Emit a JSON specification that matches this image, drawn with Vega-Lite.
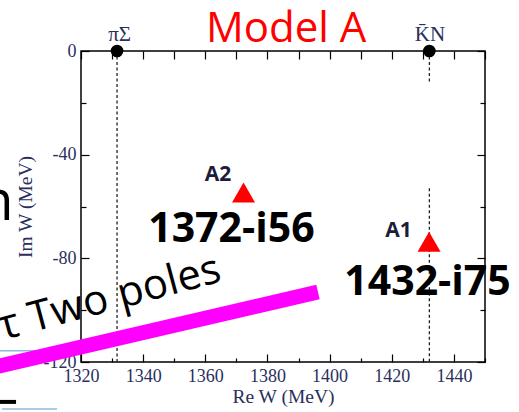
{
  "$schema": "https://vega.github.io/schema/vega-lite/v6.json",
  "width": 404,
  "height": 311,
  "autosize": {"type": "none"},
  "padding": {"left": 81, "top": 51, "right": 34, "bottom": 50},
  "background": "white",
  "config": {
    "view": {"stroke": "black", "strokeWidth": 1.5},
    "axis": {
      "domain": false,
      "grid": false,
      "labelFlush": false,
      "tickColor": "black",
      "tickWidth": 1.2,
      "labelFont": "Liberation Serif",
      "labelFontSize": 18,
      "labelColor": "#2a2f5c",
      "titleFont": "Liberation Serif",
      "titleFontSize": 19.5,
      "titleFontWeight": "normal",
      "titleColor": "#2a2f5c"
    }
  },
  "datasets": {
    "vlines": [
      {"re": 1331.6, "y": 0, "y2": -120},
      {"re": 1432.1, "y": 0, "y2": -12.3},
      {"re": 1432.1, "y": -53, "y2": -120}
    ],
    "thresholds": [
      {"label": "πΣ", "re": 1331.6, "im": 0},
      {"label": "K̄N", "re": 1432.1, "im": 0}
    ],
    "poles": [
      {"pole": "A2", "re": 1372.3, "im": -54.6},
      {"pole": "A1", "re": 1432.0, "im": -73.6}
    ],
    "annotations": [
      {"text": "A2", "re": 1364.1, "im": -50.2, "kind": "pole"},
      {"text": "A1", "re": 1422.2, "im": -71.8, "kind": "pole"},
      {"text": "1372-i56", "re": 1368.4, "im": -73.7, "kind": "value"},
      {"text": "1432-i75", "re": 1431.5, "im": -94.1, "kind": "value"},
      {"text": "πΣ", "re": 1332.4, "im": 3.86, "kind": "threshold"},
      {"text": "K̄N", "re": 1432.3, "im": 3.86, "kind": "threshold"},
      {"text": "Model A", "re": 1386.0, "im": 3.47, "kind": "title"},
      {"text": "τ Two poles", "re": 1294.9, "im": -111.5, "kind": "slide"},
      {"text": "n", "re": 1298.3, "im": -65.2, "kind": "slide_n"}
    ],
    "magenta": [
      {"re": 1290.7, "im": -122.4},
      {"re": 1396.25, "im": -93.0}
    ],
    "bluelines": [
      {"re": 1293.9, "re2": 1310.7, "im": -115.7},
      {"re": 1294.6, "re2": 1312.3, "im": -138.1}
    ],
    "blackbar": [
      {"re": 1293.9, "re2": 1299.1, "im": -135.4}
    ]
  },
  "resolve": {"axis": {"x": "independent", "y": "independent"}},
  "layer": [
    {
      "data": {"name": "vlines"},
      "mark": {"type": "rule", "strokeDash": [3, 2.5], "strokeWidth": 1.3, "color": "#222"},
      "encoding": {
        "x": {
          "field": "re", "type": "quantitative",
          "scale": {"domain": [1320, 1450], "nice": false, "zero": false},
          "axis": {
            "orient": "bottom",
            "title": "Re W (MeV)",
            "values": [1320, 1330, 1340, 1350, 1360, 1370, 1380, 1390, 1400, 1410, 1420, 1430, 1440, 1450],
            "labelExpr": "datum.value % 20 == 0 ? '' + datum.value : ''",
            "tickSize": {"condition": {"test": "datum.value % 20 == 0", "value": -8}, "value": -4},
            "labelPadding": 13,
            "titlePadding": 2
          }
        },
        "y": {
          "field": "y", "type": "quantitative",
          "scale": {"domain": [-120, 0], "nice": false, "zero": false},
          "axis": {
            "orient": "left",
            "title": "Im W (MeV)",
            "values": [-120, -100, -80, -60, -40, -20, 0],
            "labelExpr": "datum.value % 40 == 0 ? '' + datum.value : ''",
            "tickSize": {"condition": {"test": "datum.value % 40 == 0", "value": -8}, "value": -5},
            "labelPadding": 13,
            "titlePadding": 8
          }
        },
        "y2": {"field": "y2"}
      }
    },
    {
      "data": {"name": "thresholds"},
      "mark": {"type": "point", "shape": "circle", "filled": true, "color": "black", "size": 160, "opacity": 1},
      "encoding": {
        "x": {
          "field": "re", "type": "quantitative",
          "axis": {
            "orient": "top", "title": null, "labels": false,
            "values": [1320, 1330, 1340, 1350, 1360, 1370, 1380, 1390, 1400, 1410, 1420, 1430, 1440, 1450],
            "tickSize": -8
          }
        },
        "y": {
          "field": "im", "type": "quantitative",
          "axis": {
            "orient": "right", "title": null, "labels": false,
            "values": [-120, -100, -80, -60, -40, -20, 0],
            "tickSize": {"condition": {"test": "datum.value % 40 == 0", "value": -8}, "value": -5}
          }
        }
      }
    },
    {
      "data": {"name": "poles"},
      "mark": {"type": "point", "shape": "triangle-up", "filled": true, "color": "#ff0000", "size": 530, "opacity": 1},
      "encoding": {
        "x": {"field": "re", "type": "quantitative", "axis": null},
        "y": {"field": "im", "type": "quantitative", "axis": null}
      }
    },
    {
      "data": {"name": "annotations"},
      "transform": [{"filter": "datum.kind == 'threshold'"}],
      "mark": {"type": "text", "font": "Liberation Serif", "fontSize": 21, "color": "#2a2f5c", "align": "center", "baseline": "alphabetic"},
      "encoding": {
        "x": {"field": "re", "type": "quantitative", "axis": null},
        "y": {"field": "im", "type": "quantitative", "axis": null},
        "text": {"field": "text"}
      }
    },
    {
      "data": {"name": "annotations"},
      "transform": [{"filter": "datum.kind == 'pole'"}],
      "mark": {"type": "text", "font": "Open Sans", "fontWeight": "bold", "fontSize": 21, "color": "#1c1c3c", "align": "center", "baseline": "alphabetic"},
      "encoding": {
        "x": {"field": "re", "type": "quantitative", "axis": null},
        "y": {"field": "im", "type": "quantitative", "axis": null},
        "text": {"field": "text"}
      }
    },
    {
      "data": {"name": "annotations"},
      "transform": [{"filter": "datum.kind == 'value'"}],
      "mark": {"type": "text", "font": "Open Sans", "fontWeight": "bold", "fontSize": 41, "color": "black", "align": "center", "baseline": "alphabetic"},
      "encoding": {
        "x": {"field": "re", "type": "quantitative", "axis": null},
        "y": {"field": "im", "type": "quantitative", "axis": null},
        "text": {"field": "text"}
      }
    },
    {
      "data": {"name": "annotations"},
      "transform": [{"filter": "datum.kind == 'title'"}],
      "mark": {"type": "text", "font": "Open Sans", "fontSize": 42, "color": "#ff0000", "align": "center", "baseline": "alphabetic"},
      "encoding": {
        "x": {"field": "re", "type": "quantitative", "axis": null},
        "y": {"field": "im", "type": "quantitative", "axis": null},
        "text": {"field": "text"}
      }
    },
    {
      "data": {"name": "bluelines"},
      "mark": {"type": "rule", "color": "#8fb8de", "strokeWidth": 1.5},
      "encoding": {
        "x": {"field": "re", "type": "quantitative", "axis": null},
        "x2": {"field": "re2"},
        "y": {"field": "im", "type": "quantitative", "axis": null}
      }
    },
    {
      "data": {"name": "blackbar"},
      "mark": {"type": "rule", "color": "black", "strokeWidth": 4},
      "encoding": {
        "x": {"field": "re", "type": "quantitative", "axis": null},
        "x2": {"field": "re2"},
        "y": {"field": "im", "type": "quantitative", "axis": null}
      }
    },
    {
      "data": {"name": "annotations"},
      "transform": [{"filter": "datum.kind == 'slide'"}],
      "mark": {"type": "text", "font": "Open Sans", "fontSize": 42, "color": "black", "align": "left", "baseline": "alphabetic", "angle": -15},
      "encoding": {
        "x": {"field": "re", "type": "quantitative", "axis": null},
        "y": {"field": "im", "type": "quantitative", "axis": null},
        "text": {"field": "text"}
      }
    },
    {
      "data": {"name": "annotations"},
      "transform": [{"filter": "datum.kind == 'slide_n'"}],
      "mark": {"type": "text", "font": "Open Sans", "fontSize": 56, "color": "black", "align": "right", "baseline": "alphabetic"},
      "encoding": {
        "x": {"field": "re", "type": "quantitative", "axis": null},
        "y": {"field": "im", "type": "quantitative", "axis": null},
        "text": {"field": "text"}
      }
    },
    {
      "data": {"name": "magenta"},
      "mark": {"type": "line", "color": "#ff00ff", "strokeWidth": 15, "strokeCap": "butt"},
      "encoding": {
        "x": {"field": "re", "type": "quantitative", "axis": null},
        "y": {"field": "im", "type": "quantitative", "axis": null}
      }
    }
  ]
}
